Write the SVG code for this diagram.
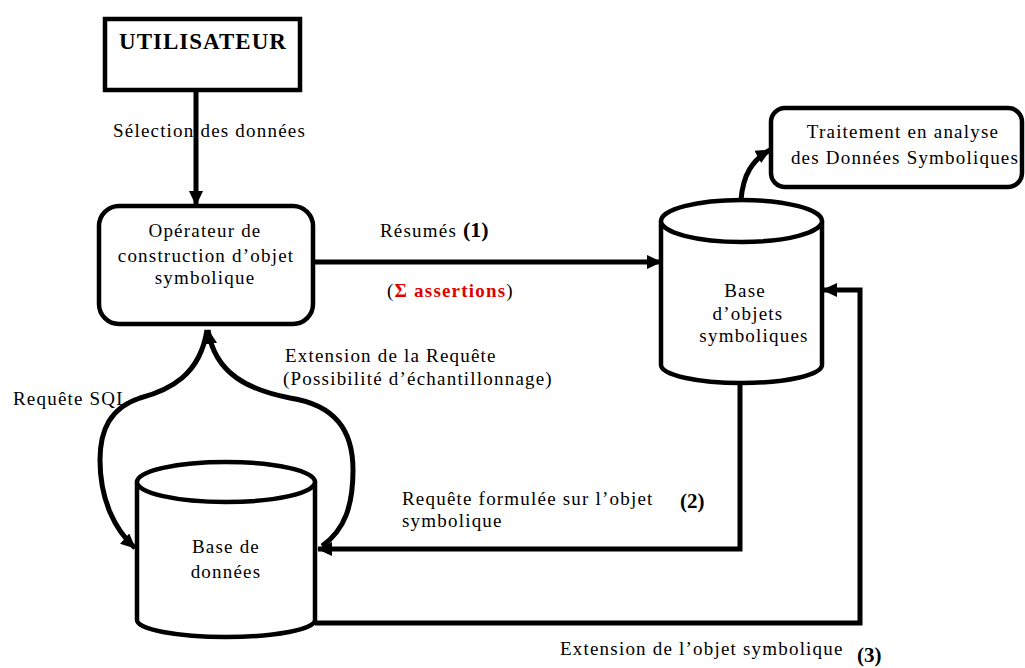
<svg xmlns="http://www.w3.org/2000/svg" width="1025" height="668" viewBox="0 0 1025 668">
<style>
.t{font-family:"Liberation Serif","Times New Roman",serif;font-size:19px;letter-spacing:1.2px;fill:#000}
.b{font-family:"Liberation Serif","Times New Roman",serif;font-weight:bold;fill:#000}
.box{fill:#fff;stroke:#000;stroke-width:4.5}
.con{fill:none;stroke:#000;stroke-width:5}
.red{fill:#e00000;font-weight:bold}
</style>
<defs>
<marker id="ah" markerUnits="userSpaceOnUse" markerWidth="16" markerHeight="14" refX="14" refY="7" orient="auto" viewBox="0 0 16 14">
<path d="M0,0 L15,7 L0,14 z" fill="#000"/>
</marker>
</defs>
<rect width="1025" height="668" fill="#fff"/>

<g id="connectors">
<line class="con" x1="196" y1="92" x2="196" y2="205" marker-end="url(#ah)"/>
<line class="con" x1="315" y1="262" x2="661" y2="262" marker-end="url(#ah)"/>
<path class="con" d="M741,200 C743,175 752,160 770,150" marker-end="url(#ah)"/>
<path class="con" d="M207,330 C200,375 170,390 140,398 C110,408 100,430 100,460 C100,500 115,530 135,548" marker-end="url(#ah)"/>
<path class="con" d="M322,546 C345,530 353,505 353,470 C353,430 335,405 290,398 C250,390 215,375 208,330" marker-end="url(#ah)"/>
<path class="con" d="M740,383 V549 H318" marker-end="url(#ah)"/>
<path class="con" d="M315,623 H860 V290 H823" marker-end="url(#ah)"/>
</g>

<g id="utilisateur">
<rect class="box" x="105" y="19" width="195" height="71"/>
<text class="b" x="203" y="49" font-size="23" letter-spacing="1" text-anchor="middle">UTILISATEUR</text>
</g>

<g id="operateur">
<rect class="box" x="99" y="206" width="214" height="118" rx="20"/>
<text class="t" x="205" y="237" text-anchor="middle">Opérateur de</text>
<text class="t" x="206" y="262" text-anchor="middle">construction d’objet</text>
<text class="t" x="205" y="284" text-anchor="middle">symbolique</text>
</g>

<g id="base-objets">
<path d="M661,221 V365 A80.5,18 0 0 0 822,365 V221" fill="#fff" stroke="#000" stroke-width="4.5"/>
<ellipse cx="741.5" cy="221" rx="80.5" ry="21" fill="#fff" stroke="#000" stroke-width="4.5"/>
<text class="t" x="745" y="297" text-anchor="middle">Base</text>
<text class="t" x="748" y="320" text-anchor="middle">d’objets</text>
<text class="t" x="754" y="342" text-anchor="middle">symboliques</text>
</g>

<g id="traitement">
<rect class="box" x="771" y="108" width="251" height="79" rx="14"/>
<text class="t" x="903" y="138" text-anchor="middle">Traitement en analyse</text>
<text class="t" x="905" y="164" text-anchor="middle">des Données Symboliques</text>
</g>

<g id="base-donnees">
<path d="M137,482 V620 A89,17 0 0 0 315,620 V482" fill="#fff" stroke="#000" stroke-width="4.5"/>
<ellipse cx="226" cy="482" rx="89" ry="20" fill="#fff" stroke="#000" stroke-width="4.5"/>
<text class="t" x="226" y="553" text-anchor="middle">Base de</text>
<text class="t" x="226" y="578" text-anchor="middle">données</text>
</g>

<g id="labels">
<text class="t" x="113" y="137">Sélection des données</text>
<text class="t" x="380" y="237">Résumés <tspan class="b" font-size="22" letter-spacing="0">(1)</tspan></text>
<text class="t" x="387" y="297">(<tspan class="red">Σ assertions</tspan>)</text>
<text class="t" x="13" y="405">Requête SQL</text>
<text class="t" x="285" y="362">Extension de la Requête</text>
<text class="t" x="283" y="385">(Possibilité d’échantillonnage)</text>
<text class="t" x="402" y="505">Requête formulée sur l’objet</text>
<text class="t" x="402" y="527">symbolique</text>
<text class="b" x="680" y="508" font-size="21">(2)</text>
<text class="t" x="560" y="655">Extension de l’objet symbolique</text>
<text class="b" x="857" y="662" font-size="21">(3)</text>
</g>
</svg>
